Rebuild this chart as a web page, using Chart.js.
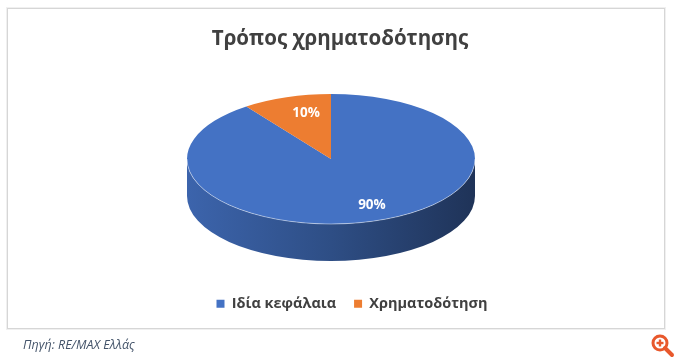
<!DOCTYPE html>
<html><head><meta charset="utf-8">
<script src="https://cdn.jsdelivr.net/npm/chart.js@4/dist/chart.umd.min.js"></script>
<style>
html,body{margin:0;padding:0;background:#fff;}
#wrap{position:relative;width:680px;height:362px;overflow:hidden;background:#fff;}
#c{position:absolute;left:0;top:0;}
#frame{position:absolute;left:7px;top:8px;width:656px;height:319px;border:1px solid #d6d6d6;box-shadow:0 0 0 1px #f0f0f0;pointer-events:none;}
#src{position:absolute;left:23px;top:336px;font:italic 12.5px "Open Sans",sans-serif;color:#44546a;white-space:nowrap;}
#zoom{position:absolute;left:650px;top:333px;}
</style></head>
<body>
<div id="wrap">
<canvas id="c" width="680" height="362"></canvas>
<div id="frame"></div>
<div id="src">Πηγή: RE/MAX Ελλάς</div>
<svg id="zoom" width="28" height="28" viewBox="0 0 28 28">
  <circle cx="10" cy="10" r="7" fill="none" stroke="#e8582c" stroke-width="3"/>
  <line x1="15" y1="15" x2="22" y2="22" stroke="#e8582c" stroke-width="4" stroke-linecap="round"/>
  <line x1="6.5" y1="10" x2="13.5" y2="10" stroke="#e8582c" stroke-width="2.4"/>
  <line x1="10" y1="6.5" x2="10" y2="13.5" stroke="#e8582c" stroke-width="2.4"/>
</svg>
</div>
<script>
const categories = ['Ιδία κεφάλαια', 'Χρηματοδότηση'];
const values = [90, 10];
const colors = ['#4472c4', '#ed7d31'];
const titleText = 'Τρόπος χρηματοδότησης';

// 3D pie geometry (layout only)
const PIE = {cx: 331, cy: 159, rx: 144, ry: 65, depth: 37, labelK: 0.74};

function shade(hex, f) {
  const n = parseInt(hex.slice(1), 16);
  const r = Math.round(((n >> 16) & 255) * f), g = Math.round(((n >> 8) & 255) * f), b = Math.round((n & 255) * f);
  return 'rgb(' + r + ',' + g + ',' + b + ')';
}

function drawSide(ctx, a0, a1, col) {
  const {cx, cy, rx, ry, depth} = PIE;
  const grad = ctx.createLinearGradient(cx - rx, 0, cx + rx, 0);
  grad.addColorStop(0, shade(col, 0.88));
  grad.addColorStop(0.5, shade(col, 0.68));
  grad.addColorStop(1, shade(col, 0.45));
  ctx.beginPath();
  ctx.ellipse(cx, cy, rx, ry, 0, a0, a1, false);
  ctx.lineTo(cx + rx * Math.cos(a1), cy + depth + ry * Math.sin(a1));
  ctx.ellipse(cx, cy + depth, rx, ry, 0, a1, a0, true);
  ctx.closePath();
  ctx.fillStyle = grad;
  ctx.fill();
}

const pie3d = {
  id: 'pie3d',
  afterLayout(chart) {
    chart.legend.left += 12;
    chart.legend.right += 12;
  },
  beforeDatasetsDraw(chart) {
    const ctx = chart.ctx;
    const arcs = chart.getDatasetMeta(0).data;
    ctx.save();
    arcs.forEach(arc => {
      const p = arc.getProps(['startAngle', 'endAngle'], true);
      const col = arc.options.backgroundColor;
      for (let k = -1; k <= 2; k++) {
        const a0 = Math.max(p.startAngle, 2 * Math.PI * k);
        const a1 = Math.min(p.endAngle, 2 * Math.PI * k + Math.PI);
        if (a1 > a0) drawSide(ctx, a0, a1, col);
      }
    });
    ctx.restore();
    const a = arcs[0];
    const pp = a.getProps(['x', 'y', 'outerRadius'], true);
    ctx.save();
    ctx.translate(PIE.cx, PIE.cy);
    ctx.scale(PIE.rx / pp.outerRadius, PIE.ry / pp.outerRadius);
    ctx.translate(-pp.x, -pp.y);
  },
  afterDatasetsDraw(chart) {
    const ctx = chart.ctx;
    ctx.restore();
    const {cx, cy, rx, ry, labelK} = PIE;
    ctx.save();
    ctx.beginPath();
    ctx.ellipse(cx, cy, rx, ry, 0, 0, Math.PI, false);
    ctx.strokeStyle = 'rgba(255,255,255,0.45)';
    ctx.lineWidth = 1;
    ctx.stroke();
    ctx.restore();
    const arcs = chart.getDatasetMeta(0).data;
    const total = values.reduce((s, v) => s + v, 0);
    ctx.save();
    ctx.font = 'bold 13.5px "Open Sans", sans-serif';
    ctx.fillStyle = '#ffffff';
    ctx.textAlign = 'center';
    ctx.textBaseline = 'middle';
    arcs.forEach((arc, i) => {
      const p = arc.getProps(['startAngle', 'endAngle'], true);
      const m = (p.startAngle + p.endAngle) / 2;
      const x = cx + 8 + rx * labelK * Math.cos(m);
      const y = cy + ry * labelK * Math.sin(m);
      ctx.fillText(Math.round(values[i] / total * 100) + '%', x, y);
    });
    ctx.restore();
  }
};

new Chart(document.getElementById('c'), {
  type: 'pie',
  data: {
    labels: categories,
    datasets: [{data: values, backgroundColor: colors, borderWidth: 0, clip: false}]
  },
  options: {
    responsive: false,
    animation: false,
    events: [],
    layout: {padding: {top: 27, bottom: 41, left: 0, right: 0}},
    plugins: {
      title: {
        display: true, text: titleText, color: '#404040',
        font: {family: '"Open Sans", sans-serif', size: 20.5, weight: 'bold'},
        padding: {top: 0, bottom: 10}
      },
      legend: {
        position: 'bottom',
        labels: {
          color: '#404040', boxWidth: 8, boxHeight: 8, padding: 18,
          font: {family: '"Open Sans", sans-serif', size: 14.5, weight: 'bold'}
        }
      },
      tooltip: {enabled: false}
    }
  },
  plugins: [pie3d]
});
</script>
</body></html>
